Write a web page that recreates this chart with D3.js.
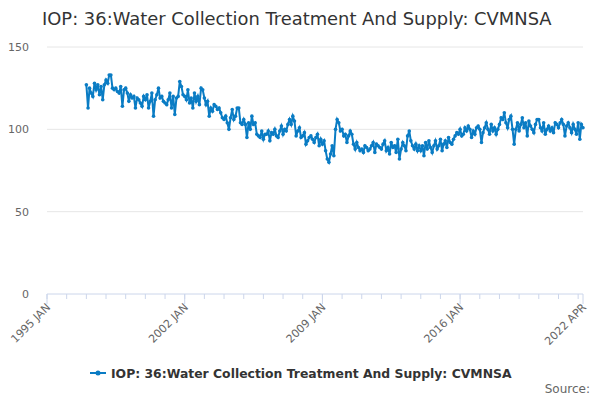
<!DOCTYPE html>
<html lang="en">
<head>
<meta charset="utf-8">
<title>IOP chart</title>
<script src="https://cdn.jsdelivr.net/npm/d3@7"></script>
<style>body{margin:0;background:#fff;font-family:"DejaVu Sans",sans-serif;}</style>
</head>
<body>
<script>
// monthly values, one row per year, starting 1997 JAN
var startYear = 1997;
var values = [
 [127,113,125,122,120,128,124,127,121,126,118,127],
 [130,128,133,133,125,124,125,123,122,126,114,124],
 [125,122,117,121,119,120,113,119,118,116,114,120],
 [118,121,113,117,122,108,118,121,125,119,120,117],
 [116,115,118,122,113,120,109,119,120,129,126,121],
 [120,118,124,116,119,113,122,117,120,115,125,124],
 [119,115,117,108,113,111,115,114,112,113,110,107],
 [106,108,104,100,107,112,106,108,113,113,104,103],
 [106,103,95,104,100,108,103,104,97,96,95,99],
 [94,97,97,99,93,98,97,100,96,95,99,102],
 [97,100,99,103,106,103,108,105,96,99,101,95],
 [96,98,91,93,95,96,94,92,95,97,90,94],
 [91,93,87,82,80,85,90,84,100,106,104,99],
 [100,96,97,92,96,99,97,91,88,92,89,87],
 [88,86,90,89,87,88,90,92,86,91,90,89],
 [88,91,93,87,89,85,92,89,90,86,94,82],
 [88,92,90,87,96,99,93,90,88,91,87,90],
 [87,90,84,92,88,93,89,86,90,93,88,90],
 [94,87,91,93,89,95,92,91,94,96,98,97],
 [100,96,97,101,99,102,100,95,99,97,101,102],
 [100,92,98,101,104,100,97,103,99,101,97,100],
 [103,107,106,110,104,101,106,108,100,91,100,104],
 [99,103,107,101,104,96,105,102,100,98,103,106],
 [106,101,99,104,97,100,102,99,101,98,104,103],
 [101,104,106,103,96,102,104,101,98,103,100,97],
 [104,94,103,101]
];
var yTicks = [0, 50, 100, 150];
var xTickDates = [[1995,0,"1995 JAN"],[2002,0,"2002 JAN"],[2009,0,"2009 JAN"],[2016,0,"2016 JAN"],[2022,3,"2022 APR"]];
var title = "IOP: 36:Water Collection Treatment And Supply: CVMNSA";
var color = "#0a7cc4";

var data = [];
values.forEach(function(row, yi){
  row.forEach(function(v, m){ data.push({d: new Date(startYear + yi, m, 1), v: v}); });
});

var svg = d3.select("body").append("svg").attr("width", 600).attr("height", 400);
var x = d3.scaleTime().domain([new Date(1995,0,1), new Date(2022,3,1)]).range([47, 583]);
var y = d3.scaleLinear().domain([0,150]).range([294, 47]);

svg.append("text").attr("x", 42).attr("y", 25).attr("font-size", 17.9).attr("fill", "#333").text(title);

svg.selectAll(".grid").data(yTicks.slice(1)).enter().append("line")
  .attr("x1", 47).attr("x2", 583).attr("y1", y).attr("y2", y).attr("stroke", "#e6e6e6");
svg.append("line").attr("x1", 47).attr("x2", 583).attr("y1", y(0)).attr("y2", y(0)).attr("stroke", "#ccd6eb");

svg.selectAll(".yl").data(yTicks).enter().append("text")
  .attr("x", 29).attr("y", function(d){ return y(d) + 4; }).attr("text-anchor", "end")
  .attr("font-size", 11).attr("fill", "#666").text(function(d){ return d; });

var years = d3.range(1995, 2023).map(function(yy){ return new Date(yy,0,1); });
svg.selectAll(".mt").data(years).enter().append("line")
  .attr("x1", x).attr("x2", x).attr("y1", y(0)).attr("y2", y(0) + 5).attr("stroke", "#ccd6eb");

xTickDates.forEach(function(t){
  var px = x(new Date(t[0], t[1], 1));
  svg.append("line").attr("x1", px).attr("x2", px).attr("y1", y(0)).attr("y2", y(0) + 10).attr("stroke", "#ccd6eb");
  svg.append("text").attr("transform", "translate(" + (px + 4) + "," + (y(0) + 14) + ") rotate(-45)")
    .attr("text-anchor", "end").attr("font-size", 11).attr("fill", "#666").text(t[2]);
});

var line = d3.line().x(function(d){ return x(d.d); }).y(function(d){ return y(d.v); });
svg.append("path").datum(data).attr("d", line).attr("fill", "none").attr("stroke", color).attr("stroke-width", 2);
svg.selectAll(".pt").data(data).enter().append("circle")
  .attr("cx", function(d){ return x(d.d); }).attr("cy", function(d){ return y(d.v); })
  .attr("r", 1.8).attr("fill", color);

var lg = svg.append("g").attr("transform", "translate(90,373)");
lg.append("line").attr("x1", 0).attr("x2", 16).attr("y1", 0).attr("y2", 0).attr("stroke", color).attr("stroke-width", 2);
lg.append("circle").attr("cx", 8).attr("cy", 0).attr("r", 2.5).attr("fill", color);
lg.append("text").attr("x", 21).attr("y", 5).attr("font-size", 12.4).attr("font-weight", "bold").attr("fill", "#333").text(title);

svg.append("text").attr("x", 590).attr("y", 393).attr("text-anchor", "end").attr("font-size", 12).attr("fill", "#666").text("Source:");
</script>
</body>
</html>
